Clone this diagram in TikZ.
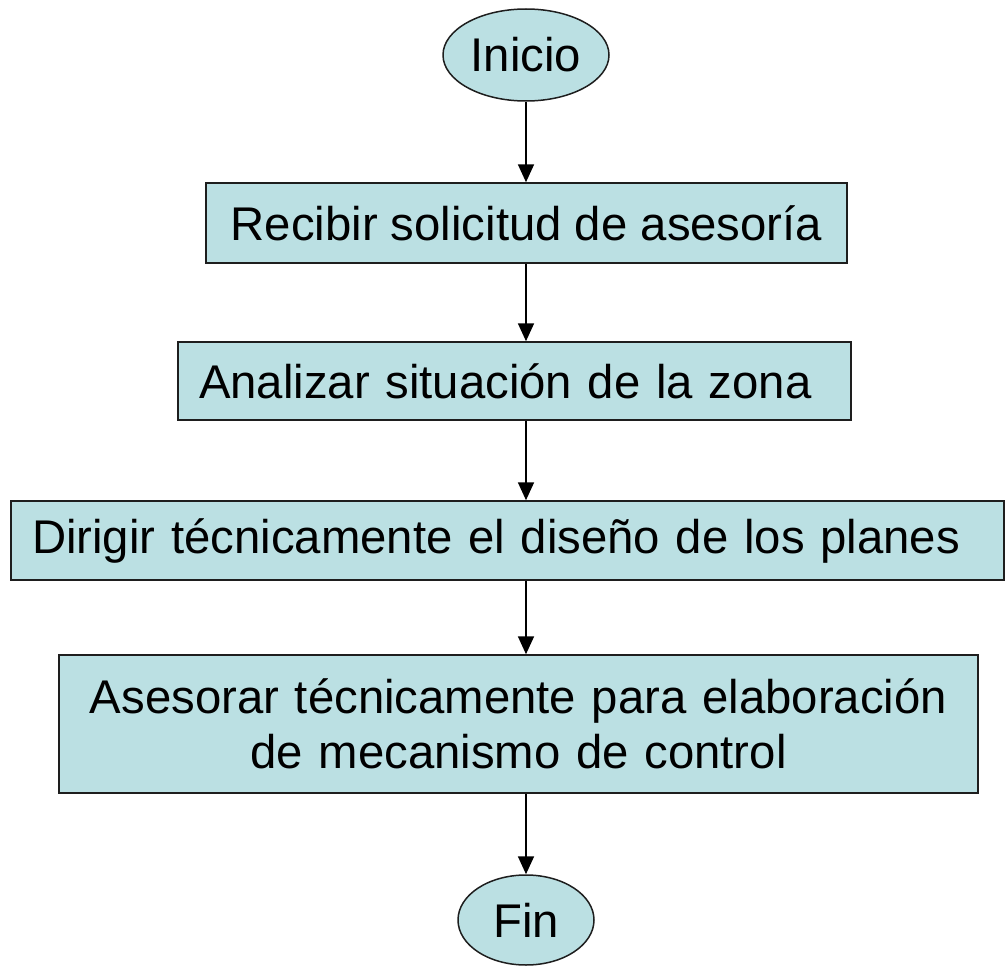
\documentclass[tikz,border=0pt]{standalone}
\usepackage{fontspec}
\setmainfont{Liberation Sans}
\usetikzlibrary{shapes.geometric,arrows.meta}
\definecolor{CajaAzul}{RGB}{187, 224, 227}
\definecolor{Borde}{RGB}{30, 30, 30}
\tikzstyle{terminal} = [ellipse, draw=Borde, fill=CajaAzul, line width=1.5pt, inner sep=0pt, font=\fontsize{47.3}{55}\selectfont]
\tikzstyle{paso} = [rectangle, draw=Borde, fill=CajaAzul, line width=1.5pt, inner xsep=21pt, inner ysep=0pt, align=left, font=\fontsize{47.3}{55}\selectfont]
\tikzstyle{flecha} = [line width=1.8pt, -{Triangle[length=18pt,width=16pt]}]

\begin{document}
\begin{tikzpicture}[x=1pt, y=-1pt]
\useasboundingbox (0,0) rectangle (1005,966);

% Inicio
\node (inicio) [terminal, minimum width=166pt, minimum height=92pt] at (526,55) {Inicio};

% Pasos
\node (recibir) [paso, align=center, minimum width=641pt, minimum height=80pt] at (526.5,223) {Recibir solicitud de asesoría};
\node (analizar) [paso, text width=631pt, minimum height=78pt] at (514.5,381) {Analizar situación de la zona};
\node (dirigir) [paso, text width=951pt, minimum height=79pt] at (507.5,540.5) {Dirigir técnicamente el diseño de los planes};
\node (asesorar) [paso, align=center, text width=877pt, minimum height=138pt] at (518.5,724) {Asesorar técnicamente para elaboración\\de mecanismo de control};

% Fin
\node (fin) [terminal, minimum width=136pt, minimum height=90pt] at (526,920) {Fin};

% Flechas
\draw [flecha] (inicio) -- (recibir.north -| inicio);
\draw [flecha] (recibir.south -| inicio) -- (analizar.north -| inicio);
\draw [flecha] (analizar.south -| inicio) -- (dirigir.north -| inicio);
\draw [flecha] (dirigir.south -| inicio) -- (asesorar.north -| inicio);
\draw [flecha] (asesorar.south -| inicio) -- (fin);

\end{tikzpicture}
\end{document}
